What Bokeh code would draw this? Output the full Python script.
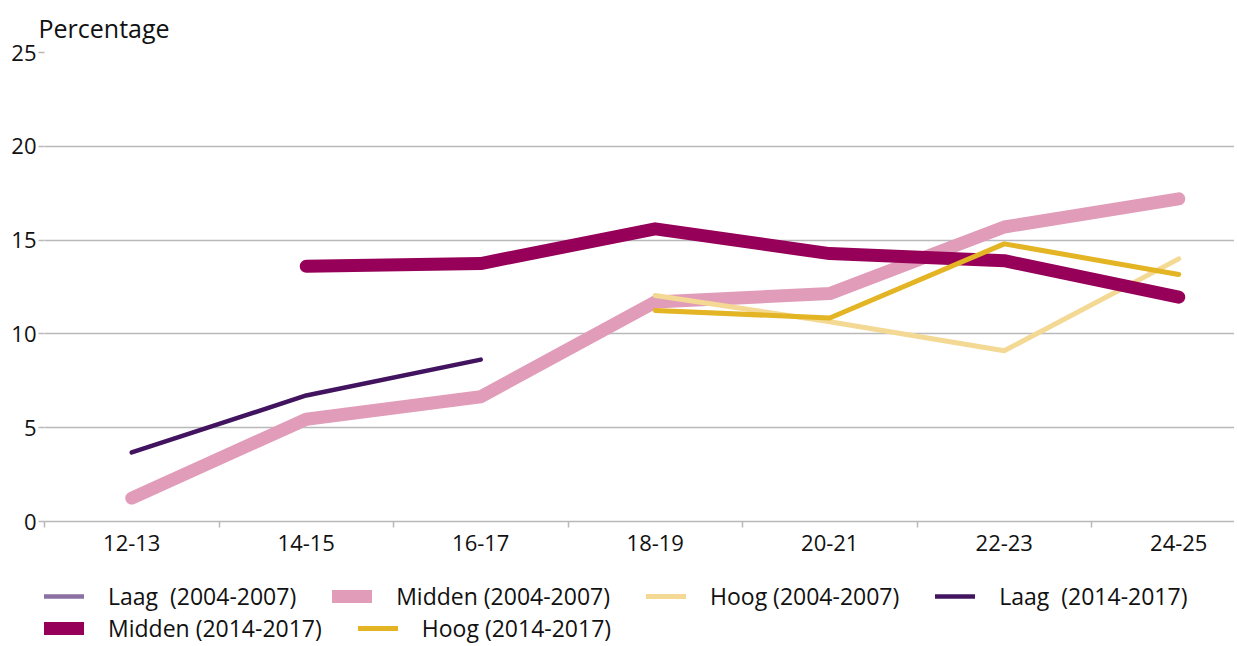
import numpy as np
from bokeh.plotting import figure
from bokeh.layouts import column
from bokeh.models import (Range1d, FixedTicker, Legend, LegendItem, ColumnDataSource)
from bokeh.embed import file_html
from bokeh.resources import INLINE

categories = ["12-13", "14-15", "16-17", "18-19", "20-21", "22-23", "24-25"]
nan = float("nan")
laag_2004 = [nan, nan, nan, nan, nan, nan, nan]
midden_2004 = [1.25, 5.45, 6.65, 11.7, 12.15, 15.7, 17.2]
hoog_2004 = [nan, nan, nan, 12.05, 10.65, 9.1, 14.0]
laag_2014 = [3.68, 6.72, 8.63, nan, nan, nan, nan]
midden_2014 = [nan, 13.6, 13.75, 15.6, 14.28, 13.9, 11.96]
hoog_2014 = [nan, nan, nan, 11.25, 10.85, 14.8, 13.17]
y_ticks = [0, 5, 10, 15, 20, 25]

FONT = "Open Sans"
TXT = "#111111"
GRID = "#b9b9b9"

xs = list(range(len(categories)))
FW = 1190
SCALE = 174.5

p = figure(frame_width=FW, frame_height=469, output_backend="svg", toolbar_location=None,
           x_range=Range1d(-0.5, -0.5 + FW / SCALE), y_range=Range1d(0, 25),
           min_border_left=44, min_border_right=0, min_border_top=52, min_border_bottom=40)
p.outline_line_color = None
p.background_fill_color = "white"

p.title.text = "Percentage"
p.title.text_font = FONT
p.title.text_font_size = "25px"
p.title.text_font_style = "normal"
p.title.text_color = TXT
p.title.align = "left"
p.title.offset = -6
p.title.standoff = 16

# axes
xa = p.xaxis[0]
xa.ticker = FixedTicker(ticks=xs, minor_ticks=[i - 0.5 for i in range(len(categories) + 1)])
xa.major_label_overrides = {i: c for i, c in enumerate(categories)}
xa.major_tick_line_color = None
xa.major_tick_out = 6
xa.minor_tick_line_color = GRID
xa.minor_tick_out = 6
xa.minor_tick_in = 0
xa.minor_tick_line_width = 1.5
xa.axis_line_color = GRID
xa.axis_line_width = 1.5
xa.major_label_text_font = FONT
xa.major_label_text_font_size = "22px"
xa.major_label_text_color = TXT
xa.major_label_standoff = 7

ya = p.yaxis[0]
ya.ticker = FixedTicker(ticks=y_ticks)
ya.minor_tick_line_color = None
ya.axis_line_color = None
ya.major_tick_line_color = GRID
ya.major_tick_out = 6
ya.major_tick_in = 0
ya.major_tick_line_width = 1.5
ya.major_label_text_font = FONT
ya.major_label_text_font_size = "22px"
ya.major_label_text_color = TXT
ya.major_label_standoff = 2

p.xgrid.grid_line_color = None
p.ygrid.ticker = FixedTicker(ticks=y_ticks)
p.ygrid.grid_line_color = GRID
p.ygrid.grid_line_width = 1.5

series = [
    ("Laag  (2004-2007)", laag_2004, "#8c70a2", 4.5),
    ("Midden (2004-2007)", midden_2004, "#e09cb8", 13),
    ("Hoog (2004-2007)", hoog_2004, "#f4d995", 5),
    ("Laag  (2014-2017)", laag_2014, "#42145f", 4.5),
    ("Midden (2014-2017)", midden_2014, "#960058", 13),
    ("Hoog (2014-2017)", hoog_2014, "#e3b423", 5),
]

# legend figure below the chart (its own copies of the series lie outside its range)
lf = figure(frame_width=FW, frame_height=83, output_backend="svg", toolbar_location=None,
            x_range=Range1d(0, 1), y_range=Range1d(100, 101), x_axis_type=None, y_axis_type=None,
            min_border_left=44, min_border_right=0, min_border_top=0, min_border_bottom=0)
lf.outline_line_color = None
lf.xgrid.grid_line_color = None
lf.ygrid.grid_line_color = None

items = []
for label, vals, color, w in series:
    src = ColumnDataSource(dict(x=xs, y=np.array(vals, dtype=float)))
    p.line("x", "y", source=src, line_color=color, line_width=w,
           line_cap="round", line_join="round")
    key = lf.line("x", "y", source=src, line_color=color, line_width=w, line_cap="round")
    items.append(LegendItem(label=label, renderers=[key]))


def make_legend(its, loc):
    lg = Legend(items=its, orientation="horizontal", location=loc)
    lg.border_line_color = None
    lg.background_fill_alpha = 0
    lg.label_text_font = FONT
    lg.label_text_font_size = "23px"
    lg.label_text_color = TXT
    lg.glyph_width = 40
    lg.glyph_height = 20
    lg.label_standoff = 24
    lg.spacing = 36
    lg.padding = 0
    lg.margin = 0
    lg.label_height = 20
    return lg


lf.add_layout(make_legend(items[:4], (0, 32)), "center")
lf.add_layout(make_legend(items[4:], (0, 0)), "center")

open("out.html", "w").write(file_html(column(p, lf, spacing=0), INLINE))
